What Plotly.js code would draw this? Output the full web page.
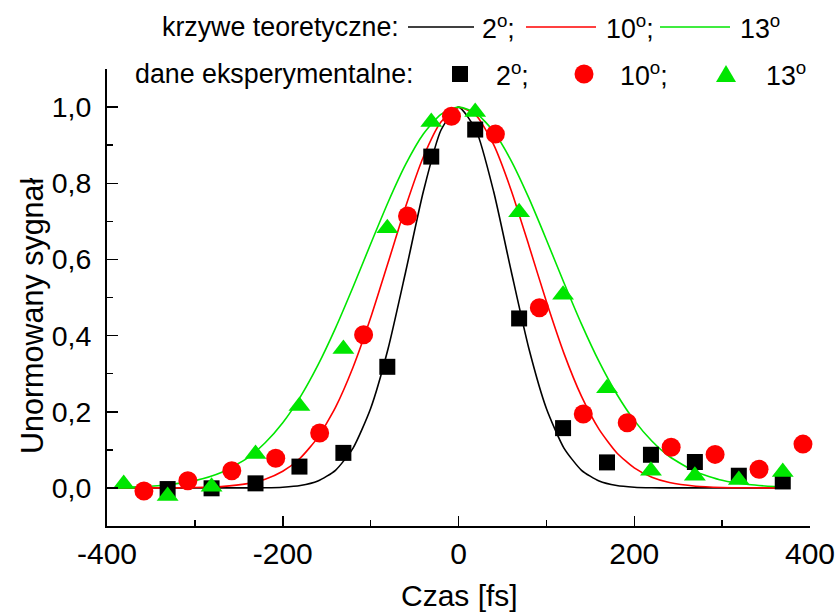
<!DOCTYPE html>
<html>
<head>
<meta charset="utf-8">
<script src="https://cdn.plot.ly/plotly-3.0.1.min.js"></script>
<style>
  html, body { margin: 0; padding: 0; background: #ffffff; }
  #chart { width: 838px; height: 613px; }
</style>
</head>
<body>
<div id="chart"></div>
<script>
// Experimental points: delay time [fs] and normalised signal
const tExp2  = [-331, -281, -231, -181, -131, -81, -31, 19, 69, 119, 169, 219, 269, 319, 369];
const sExp2  = [-0.003, -0.001, 0.012, 0.056, 0.092, 0.318, 0.870, 0.941, 0.445, 0.157, 0.067, 0.087, 0.068, 0.032, 0.017];

const tExp10 = [-358, -308, -258, -208, -158, -108, -58, -8, 42, 92, 142, 192, 242, 292, 342, 392];
const sExp10 = [-0.008, 0.019, 0.045, 0.078, 0.144, 0.402, 0.714, 0.976, 0.929, 0.473, 0.194, 0.171, 0.107, 0.088, 0.049, 0.115];

const tExp13 = [-381, -331, -281, -231, -181, -131, -81, -31, 19, 69, 119, 169, 219, 269, 319, 369];
const sExp13 = [0.010, -0.021, 0.003, 0.089, 0.215, 0.365, 0.682, 0.961, 0.987, 0.724, 0.507, 0.262, 0.045, 0.032, 0.021, 0.042];

// Theoretical curves sampled on a common time grid
const tTheory = [-390, -360, -330, -300, -270, -240, -220, -200, -180, -160, -140, -120, -100, -80, -60, -40, -20, 0,
                 20, 40, 60, 80, 100, 120, 140, 160, 180, 200, 220, 240, 270, 300, 330, 360, 372];
const sTheory2  = [0, 0, 0, 0, 0, 0.0001, 0.0005, 0.0019, 0.0062, 0.0181, 0.0463, 0.1047, 0.2086, 0.3667, 0.5688, 0.7782, 0.9392, 1.0,
                   0.9392, 0.7782, 0.5688, 0.3667, 0.2086, 0.1047, 0.0463, 0.0181, 0.0062, 0.0019, 0.0005, 0.0001, 0, 0, 0, 0, 0];
const sTheory10 = [0, 0, 0.0002, 0.0009, 0.0035, 0.0112, 0.0228, 0.0436, 0.0785, 0.1328, 0.2114, 0.3167, 0.4465, 0.5924, 0.7396, 0.8689, 0.9606, 0.9993,
                   0.9783, 0.9012, 0.7812, 0.6373, 0.4892, 0.3533, 0.2402, 0.1536, 0.0925, 0.0524, 0.0279, 0.0140, 0.0044, 0.0012, 0.0003, 0.0001, 0];
const sTheory13 = [0.0013, 0.0034, 0.0084, 0.0191, 0.0404, 0.0791, 0.1185, 0.1712, 0.2391, 0.3223, 0.4196, 0.5275, 0.6405, 0.7508, 0.8500, 0.9292, 0.9809, 1.0,
                   0.9843, 0.9357, 0.8589, 0.7614, 0.6518, 0.5387, 0.4300, 0.3314, 0.2467, 0.1773, 0.1231, 0.0825, 0.0424, 0.0201, 0.0088, 0.0036, 0.0024];

// Axis tick labels
const xTickVals = [-400, -200, 0, 200, 400];
const xTickText = ['-400', '-200', '0', '200', '400'];
const yTickVals = [0, 0.2, 0.4, 0.6, 0.8, 1.0];
const yTickText = ['0,0', '0,2', '0,4', '0,6', '0,8', '1,0'];

// Labels
const angleLabels = ['2<sup>o</sup>;', '10<sup>o</sup>;', '13<sup>o</sup>'];
const theoryTitle = 'krzywe teoretyczne:';
const expTitle = 'dane eksperymentalne:';
const xTitle = 'Czas [fs]';
const yTitle = 'Unormowany sygnał';

const colors = ['#000000', '#ff0000', '#00e600'];
const FONT = '"Liberation Sans", Arial, sans-serif';

// Plot frame in pixels
const W = 838, H = 613;
const L = 107, R = 810, T = 69, B = 526;
const px = x => (x - L) / (R - L);
const py = y => (B - y) / (B - T);

const curve = (t, s, c) => ({
  x: t, y: s, type: 'scatter', mode: 'lines',
  line: { color: c, width: 1.6, shape: 'spline', smoothing: 0.6 },
  hoverinfo: 'skip', showlegend: false
});
const points = (t, s, c, sym, size) => ({
  x: t, y: s, type: 'scatter', mode: 'markers',
  marker: { color: c, symbol: sym, size: size, line: { width: 0 } },
  cliponaxis: false, showlegend: false
});

const data = [
  curve(tTheory, sTheory2, colors[0]),
  curve(tTheory, sTheory10, colors[1]),
  curve(tTheory, sTheory13, colors[2]),
  points(tExp2, sExp2, colors[0], 'square', 16),
  points(tExp10, sExp10, colors[1], 'circle', 19),
  points(tExp13, sExp13, colors[2], 'triangle-up', 19)
];

// Key: first row for the curves, second row for the points
const row1 = 27, row2 = 74;
const lineKeys = [[408, 474], [526, 596], [660, 730]];
const lineLabelX = [480, 604, 738];
const markKeyX = [460, 584, 726];
const markLabelX = [494, 618, 764];

const shapes = [];
lineKeys.forEach((k, i) => shapes.push({
  type: 'line', xref: 'paper', yref: 'paper',
  x0: px(k[0]), x1: px(k[1]), y0: py(row1), y1: py(row1),
  line: { color: colors[i], width: 1.6 }
}));
shapes.push({
  type: 'rect', xref: 'paper', yref: 'paper',
  x0: px(markKeyX[0] - 8), x1: px(markKeyX[0] + 8), y0: py(row2 + 8), y1: py(row2 - 8),
  fillcolor: colors[0], line: { width: 0 }
});
shapes.push({
  type: 'circle', xref: 'paper', yref: 'paper',
  x0: px(markKeyX[1] - 9.5), x1: px(markKeyX[1] + 9.5), y0: py(row2 + 9.5), y1: py(row2 - 9.5),
  fillcolor: colors[1], line: { width: 0 }
});
{
  const cx = markKeyX[2];
  shapes.push({
    type: 'path', xref: 'paper', yref: 'paper',
    path: `M ${px(cx - 10)},${py(row2 + 8)} L ${px(cx + 10)},${py(row2 + 8)} L ${px(cx)},${py(row2 - 9)} Z`,
    fillcolor: colors[2], line: { width: 0 }
  });
}

const textFont = { family: FONT, size: 26.8, color: '#000' };
const annotations = [
  { text: theoryTitle, x: px(160), y: py(row1), xanchor: 'left', yanchor: 'middle' },
  { text: expTitle, x: px(133), y: py(row2), xanchor: 'left', yanchor: 'middle' },
  ...angleLabels.map((t, i) => ({ text: t, x: px(lineLabelX[i]), y: py(row1), xanchor: 'left', yanchor: 'middle' })),
  ...angleLabels.map((t, i) => ({ text: t, x: px(markLabelX[i]), y: py(row2), xanchor: 'left', yanchor: 'middle' })),
  { text: xTitle, x: px(459), y: py(595), xanchor: 'center', yanchor: 'middle', font: { family: FONT, size: 30, color: '#000' } },
  { text: yTitle, x: px(32), y: py(316), xanchor: 'center', yanchor: 'middle', textangle: -90, font: { family: FONT, size: 30.5, color: '#000' } }
].map(a => Object.assign({ xref: 'paper', yref: 'paper', showarrow: false, font: textFont }, a));

const layout = {
  width: W, height: H,
  margin: { l: L, r: W - R, t: T, b: H - B, pad: 0 },
  paper_bgcolor: '#ffffff', plot_bgcolor: '#ffffff',
  font: { family: FONT, size: 29, color: '#000' },
  showlegend: false,
  xaxis: {
    range: [-400, 400], tickmode: 'array', tickvals: xTickVals, ticktext: xTickText,
    ticks: 'inside', ticklen: 10, tickwidth: 1.5, tickcolor: '#000',
    minor: { dtick: 100, tick0: -400, ticks: 'inside', ticklen: 6, tickwidth: 1.5, tickcolor: '#000' },
    showline: true, linecolor: '#000', linewidth: 2, mirror: false,
    showgrid: false, zeroline: false,
    tickfont: { family: FONT, size: 30, color: '#000' },
    ticklabelstandoff: 0
  },
  yaxis: {
    range: [-0.1, 1.1], tickmode: 'array', tickvals: yTickVals, ticktext: yTickText,
    ticks: 'inside', ticklen: 11, tickwidth: 1.5, tickcolor: '#000',
    minor: { dtick: 0.1, tick0: 0, ticks: 'inside', ticklen: 6, tickwidth: 1.5, tickcolor: '#000' },
    showline: true, linecolor: '#000', linewidth: 2, mirror: false,
    showgrid: false, zeroline: false,
    tickfont: { family: FONT, size: 28.5, color: '#000' },
    ticklabelstandoff: 8
  },
  shapes: shapes,
  annotations: annotations
};

Plotly.newPlot('chart', data, layout, { staticPlot: true, displayModeBar: false });
</script>
</body>
</html>
